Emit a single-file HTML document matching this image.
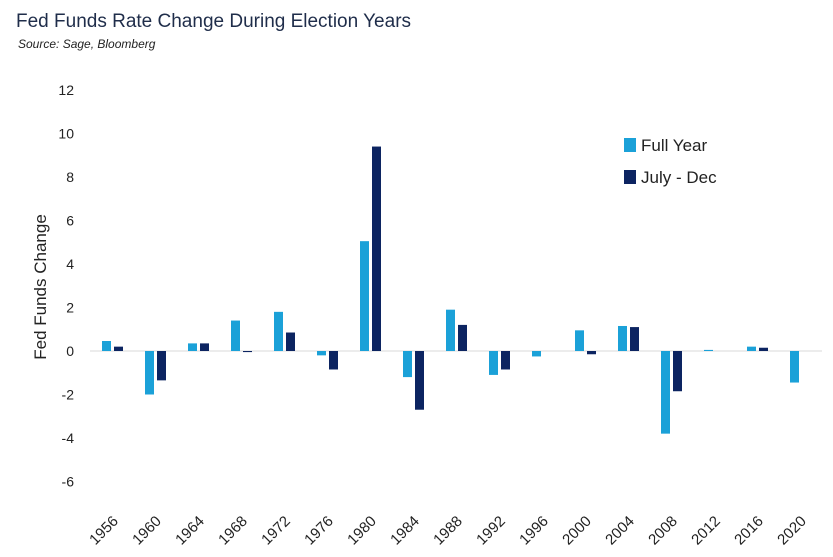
<!DOCTYPE html>
<html><head><meta charset="utf-8"><style>
body{margin:0;background:#fff;font-family:"Liberation Sans",sans-serif;}
</style></head><body>
<svg width="833" height="552" xmlns="http://www.w3.org/2000/svg" id="chart">
<text x="16" y="27" font-size="19" fill="#1f2d4a">Fed Funds Rate Change During Election Years</text>
<text x="18" y="48" font-size="12" font-style="italic" fill="#222">Source: Sage, Bloomberg</text>
<text transform="translate(46,287) rotate(-90)" text-anchor="middle" font-size="17" fill="#222">Fed Funds Change</text>
<g>
<rect x="624" y="138" width="12" height="14" fill="#1ba1d8"/>
<text x="641" y="151" font-size="17" fill="#222">Full Year</text>
<rect x="624" y="170" width="12" height="14" fill="#0c2461"/>
<text x="641" y="183" font-size="17" fill="#222">July - Dec</text>
</g>
<g id="plot"></g>
</svg>
<script>
const years=["1956","1960","1964","1968","1972","1976","1980","1984","1988","1992","1996","2000","2004","2008","2012","2016","2020"];
const fullYear=[0.46,-2.0,0.35,1.4,1.8,-0.2,5.05,-1.2,1.9,-1.1,-0.25,0.95,1.15,-3.8,0.05,0.2,-1.45];
const julyDec=[0.2,-1.35,0.35,-0.05,0.85,-0.85,9.4,-2.7,1.2,-0.85,0,-0.15,1.1,-1.85,0,0.15,0];
const yTicks=[-6,-4,-2,0,2,4,6,8,10,12];
const NS="http://www.w3.org/2000/svg";
const g=document.getElementById('plot');
const y=v=>351-v*21.75;
const x=i=>102+i*43;
function mk(t,a){const e=document.createElementNS(NS,t);for(const k in a)e.setAttribute(k,a[k]);g.appendChild(e);return e;}
yTicks.forEach(t=>{
 const e=mk('text',{x:74,y:y(t)+5,'text-anchor':'end','font-size':14,fill:'#222'});
 e.textContent=t;
 
 
});
const z=mk('line',{x1:90,x2:822,y1:y(0),y2:y(0),stroke:'#d9d9d9','stroke-width':1});


years.forEach((yr,i)=>{
 const a=fullYear[i],b=julyDec[i];
 const r1=mk('rect',{x:x(i),y:Math.min(y(a),y(0)),width:9,height:Math.abs(y(a)-y(0)),fill:'#1ba1d8'});
 
 
 const r2=mk('rect',{x:x(i)+12,y:Math.min(y(b),y(0)),width:9,height:Math.abs(y(b)-y(0)),fill:'#0c2461'});
 
 
 const cx=x(i)+17, cy=522;
 const t=mk('text',{x:cx,y:cy,'text-anchor':'end','font-size':15,fill:'#222',transform:`rotate(-45 ${cx} ${cy})`});
 t.textContent=yr;
 
 
});
</script>
</body></html>
